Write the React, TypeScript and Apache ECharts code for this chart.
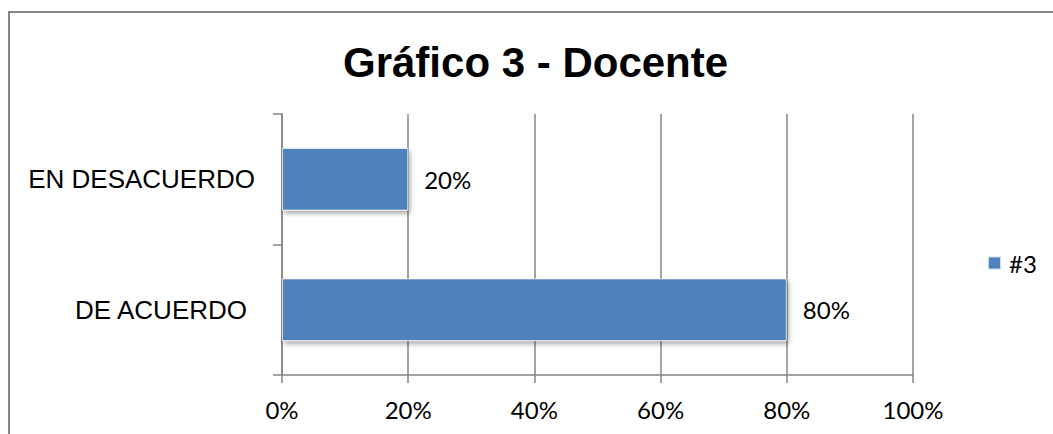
import React, { useEffect, useRef } from "react";
import * as echarts from "echarts";

const categories: string[] = ["DE ACUERDO", "EN DESACUERDO"];
const values: number[] = [80, 20];
const xTicks: number[] = [0, 20, 40, 60, 80, 100];
const seriesName = "#3";
const titleText = "Gráfico 3 - Docente";

export default function App() {
  const ref = useRef<HTMLDivElement | null>(null);
  useEffect(() => {
    if (!ref.current) return;
    const chart = echarts.init(ref.current, null, { renderer: "svg" });
    chart.setOption({
      animation: false,
      backgroundColor: "#ffffff",
      title: {
        text: titleText,
        left: 343,
        top: 41,
        padding: 0,
        textStyle: {
          fontFamily: "Liberation Sans, Arial, sans-serif",
          fontWeight: "bold",
          fontSize: 42,
          color: "#000",
        },
      },
      legend: {
        data: [seriesName],
        left: 987,
        top: 251,
        padding: 0,
        itemWidth: 13,
        itemHeight: 13,
        icon: "rect",
        textStyle: {
          fontFamily: "Lato, sans-serif",
          fontSize: 24,
          color: "#000",
          padding: [0, 0, 0, 3],
        },
      },
      graphic: [
        {
          type: "rect",
          shape: { x: 9, y: 12, width: 1200, height: 600 },
          style: { fill: "none", stroke: "#868686", lineWidth: 2 },
          silent: true,
          z: -1,
        },
      ],
      grid: { left: 282, right: 140, top: 114, bottom: 59, containLabel: false },
      xAxis: {
        type: "value",
        min: xTicks[0],
        max: xTicks[xTicks.length - 1],
        interval: 20,
        axisLine: { show: true, lineStyle: { color: "#868686", width: 1.5 } },
        axisTick: { show: true, length: 8, lineStyle: { color: "#868686", width: 1.5 } },
        splitLine: { show: true, lineStyle: { color: "#868686", width: 1.5 } },
        axisLabel: {
          formatter: "{value}%",
          margin: 22,
          fontFamily: "Lato, sans-serif",
          fontSize: 24,
          color: "#000",
        },
      },
      yAxis: {
        type: "category",
        data: categories,
        axisLine: { show: true, lineStyle: { color: "#868686", width: 1.5 } },
        axisTick: { show: true, length: 9, lineStyle: { color: "#868686", width: 1.5 } },
        axisLabel: {
          margin: 27,
          fontFamily: "Liberation Sans, Arial, sans-serif",
          fontSize: 26,
          color: "#000",
          formatter: (v: string) => (v === "DE ACUERDO" ? "{p|" + v + "}" : "{n|" + v + "}"),
          rich: {
            p: {
              fontFamily: "Liberation Sans, Arial, sans-serif",
              fontSize: 26,
              color: "#000",
              padding: [0, 8, 0, 0],
            },
            n: {
              fontFamily: "Liberation Sans, Arial, sans-serif",
              fontSize: 26,
              color: "#000",
            },
          },
        },
      },
      series: [
        {
          name: seriesName,
          type: "bar",
          data: values,
          barCategoryGap: "52%",
          itemStyle: {
            color: "#4F81BD",
            borderColor: "rgba(255,255,255,0.7)",
            borderWidth: 1,
            shadowBlur: 5,
            shadowOffsetX: 2,
            shadowOffsetY: 3,
            shadowColor: "rgba(0,0,0,0.35)",
          },
          label: {
            show: true,
            position: "right",
            distance: 16,
            formatter: "{c}%",
            fontFamily: "Lato, sans-serif",
            fontSize: 24,
            color: "#000",
          },
        },
      ],
    });
    return () => chart.dispose();
  }, []);
  return (
    <div
      ref={ref}
      style={{ position: "fixed", left: 0, top: 0, width: 1053, height: 434 }}
    />
  );
}
